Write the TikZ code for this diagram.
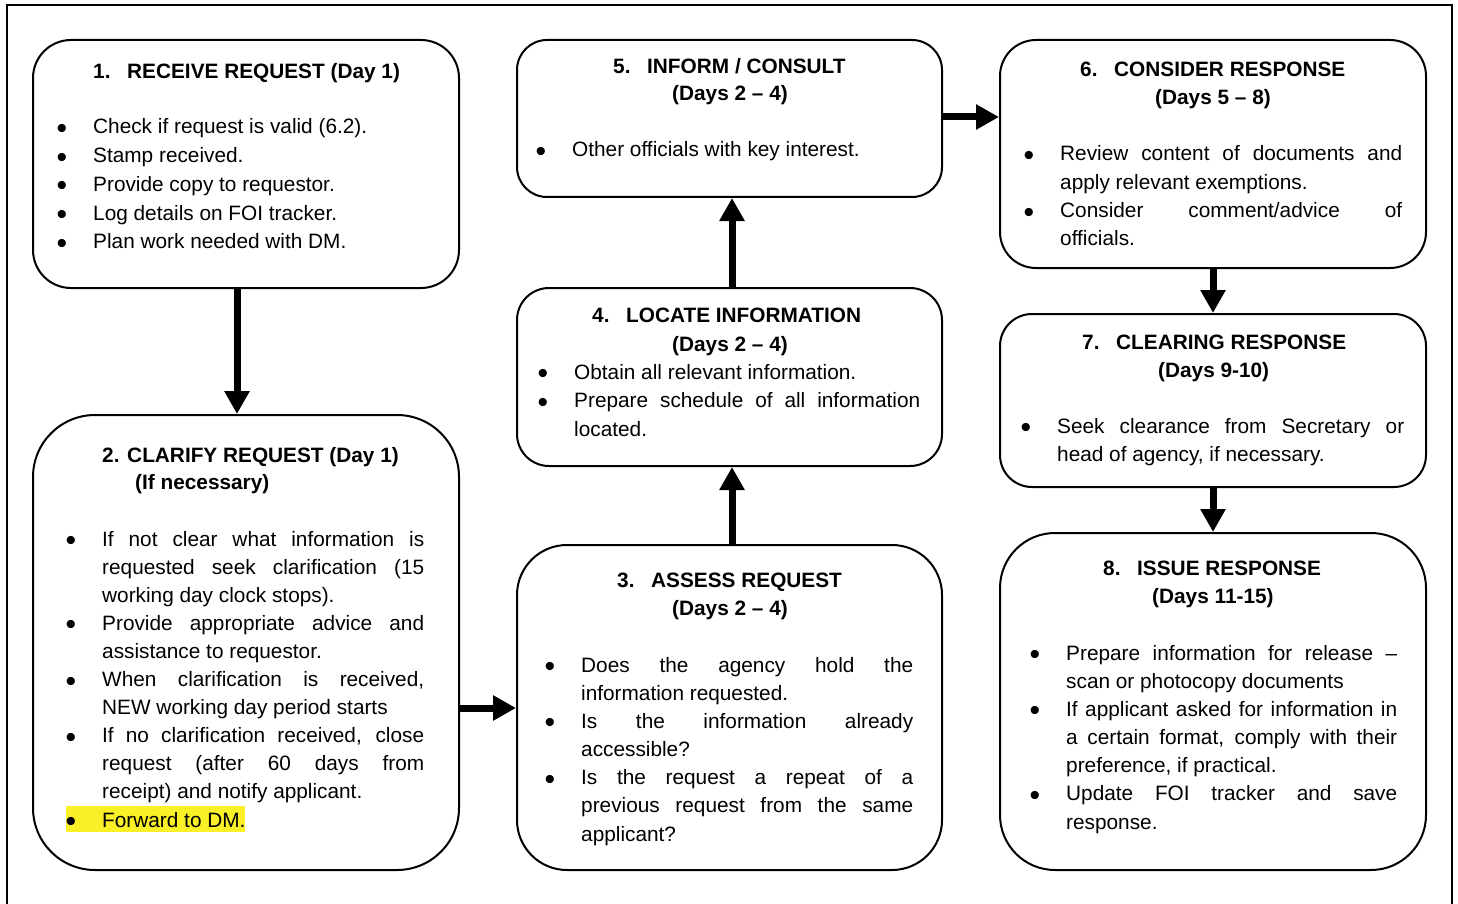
\documentclass[tikz,border=0pt]{standalone}
\usepackage{fontspec}
\usepackage{graphicx}
\setmainfont{Liberation Sans}
\usetikzlibrary{arrows.meta}
\newcommand\fitem{\noindent\llap{\makebox[36.5pt][l]{\raisebox{-4.5pt}{\scalebox{1.45}{\textbullet}}}}}
\newcommand\bitem{\par\fitem}
\newcommand\stepnum[1]{\makebox[34pt][l]{#1}}
\newcommand\bodyset{\tolerance=10000 \hbadness=10000 \hyphenpenalty=10000 \exhyphenpenalty=10000 }
\definecolor{hlyellow}{RGB}{250,240,40}
\tikzset{
  frame/.style={line width=2pt},
  box/.style={draw, line width=2pt, inner sep=0pt},
  ttl/.style={anchor=base west, inner sep=0pt, font=\fontsize{20.8}{25}\selectfont\bfseries},
  body/.style={anchor=base west, inner sep=0pt, align=justify, font=\fontsize{20.8}{#1}\selectfont\bodyset},
  body/.default=28.2,
  arr/.style={line width=7pt, -{Triangle[length=23pt,width=24pt]}},
}
\begin{document}
\begin{tikzpicture}[x=1pt,y=-1pt]
\useasboundingbox (0,0) rectangle (1458,904);
\draw[frame] (7,904) -- (7,5) -- (1452,5) -- (1452,904);

% Box 1
\node[box, minimum width=426pt, minimum height=248pt, rounded corners=38pt] (n1) at (246,164) {};
\node[ttl] (h1) at (93,79) {\stepnum{1.}RECEIVE REQUEST (Day 1)};
\node[body=28.75, text width=350pt] (b1) at (93,134) {\fitem Check if request is valid (6.2). \bitem Stamp received. \bitem Provide copy to requestor. \bitem Log details on FOI tracker. \bitem Plan work needed with DM.};

% Box 2
\node[box, minimum width=426pt, minimum height=455pt, rounded corners=62pt] (n2) at (246,642.5) {};
\node[ttl] (h2) at (102,462) {2. CLARIFY REQUEST (Day 1)};
\node[ttl] (h2b) at (135,489) {(If necessary)};
\fill[hlyellow] (66,806) rectangle (245,832);
\node[body=28.1, text width=322pt] (b2) at (102,546) {\fitem If not clear what information is\linebreak requested seek clarification (15\linebreak working day clock stops). \bitem Provide appropriate advice and\linebreak assistance to requestor. \bitem When clarification is received,\linebreak NEW working day period starts \bitem If no clarification received, close\linebreak request (after 60 days from\linebreak receipt) and notify applicant. \bitem Forward to DM.};

% Box 3
\node[box, minimum width=425pt, minimum height=325pt, rounded corners=50pt] (n3) at (729.5,707.5) {};
\node[ttl] (h3) at (617,587) {\stepnum{3.}ASSESS REQUEST};
\node[ttl] (h3b) at (672,615) {(Days 2 – 4)};
\node[body=28.17, text width=332pt] (b3) at (581,672) {\fitem Does the agency hold the\linebreak information requested. \bitem Is the information already\linebreak accessible? \bitem Is the request a repeat of a\linebreak previous request from the same\linebreak applicant?};

% Box 4
\node[box, minimum width=425pt, minimum height=178pt, rounded corners=32pt] (n4) at (729.5,377) {};
\node[ttl] (h4) at (592,322) {\stepnum{4.}LOCATE INFORMATION};
\node[ttl] (h4b) at (672,351) {(Days 2 – 4)};
\node[body=28.5, text width=346pt] (b4) at (574,379) {\fitem Obtain all relevant information. \bitem Prepare schedule of all information\linebreak located.};

% Box 5
\node[box, minimum width=425pt, minimum height=157pt, rounded corners=30pt] (n5) at (729.5,118.5) {};
\node[ttl] (h5) at (613,74) {\stepnum{5.}INFORM / CONSULT};
\node[ttl] (h5b) at (672,101) {(Days 2 – 4)};
\node[body, text width=340pt] (b5) at (572,157) {\fitem Other officials with key interest.};

% Box 6
\node[box, minimum width=426pt, minimum height=228pt, rounded corners=36pt] (n6) at (1213,154) {};
\node[ttl] (h6) at (1080,77) {\stepnum{6.}CONSIDER RESPONSE};
\node[ttl] (h6b) at (1155,105) {(Days 5 – 8)};
\node[body=28.3, text width=342pt] (b6) at (1060,161) {\fitem Review content of documents and\linebreak apply relevant exemptions. \bitem Consider comment/advice of\linebreak officials.};

% Box 7
\node[box, minimum width=426pt, minimum height=173pt, rounded corners=32pt] (n7) at (1213,400.5) {};
\node[ttl] (h7) at (1082,349) {\stepnum{7.}CLEARING RESPONSE};
\node[ttl] (h7b) at (1158,377) {(Days 9-10)};
\node[body=28, text width=347pt] (b7) at (1057,433) {\fitem Seek clearance from Secretary or\linebreak head of agency, if necessary.};

% Box 8
\node[box, minimum width=426pt, minimum height=337pt, rounded corners=55pt] (n8) at (1213,701.5) {};
\node[ttl] (h8) at (1103,575) {\stepnum{8.}ISSUE RESPONSE};
\node[ttl] (h8b) at (1152,603) {(Days 11-15)};
\node[body=28.17, text width=331pt] (b8) at (1066,660) {\fitem Prepare information for release –\linebreak scan or photocopy documents \bitem If applicant asked for information in\linebreak a certain format, comply with their\linebreak preference, if practical. \bitem Update FOI tracker and save\linebreak response.};

% Arrows
\coordinate (r23) at (0,708);
\coordinate (r56) at (0,117);
\draw[arr] ([xshift=-9pt]n1.south) -- ([xshift=-9pt]n2.north);
\draw[arr] (n2.east |- r23) -- (n3.west |- r23);
\draw[arr] ([xshift=2.5pt]n3.north) -- ([xshift=2.5pt]n4.south);
\draw[arr] ([xshift=2.5pt]n4.north) -- ([xshift=2.5pt]n5.south);
\draw[arr] (n5.east |- r56) -- (n6.west |- r56);
\draw[arr] (n6.south) -- (n7.north);
\draw[arr] (n7.south) -- (n8.north);
\end{tikzpicture}
\end{document}
